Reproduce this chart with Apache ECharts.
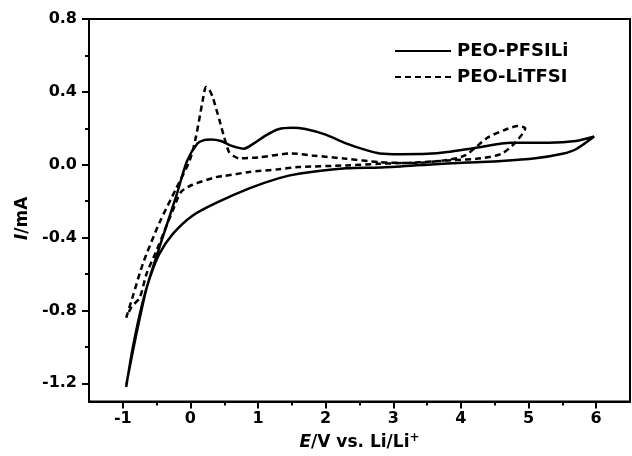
<!DOCTYPE html>
<html>
<head>
<meta charset="utf-8">
<script src="https://cdn.jsdelivr.net/npm/echarts@6/dist/echarts.min.js"></script>
<style>
html,body{margin:0;padding:0;background:#fff;}
#chart{width:632px;height:456px;}
</style>
</head>
<body>
<div id="chart"></div>
<script>
// PEO-PFSILi (solid) CV loop: potential E (V) and current I (mA)
var solidE = [-0.95,-0.8,-0.65,-0.5,-0.35,-0.2,-0.05,0.1,0.2,0.3,0.45,0.6,0.79,0.95,1.11,1.3,1.5,1.7,2.0,2.3,2.6,2.8,3.1,3.5,3.8,4.25,4.74,5.3,5.7,5.97,
              5.7,5.5,5.1,4.6,4.1,3.5,2.8,2.3,1.6,1.3,0.87,0.38,0.03,-0.26,-0.46,-0.6,-0.71,-0.85,-0.95];
var solidI = [-1.21,-0.93,-0.68,-0.5,-0.33,-0.16,0.02,0.115,0.135,0.138,0.13,0.105,0.088,0.12,0.16,0.195,0.203,0.196,0.165,0.117,0.08,0.062,0.058,0.06,0.07,0.095,0.12,0.12,0.13,0.155,
              0.085,0.06,0.035,0.02,0.012,0.0,-0.015,-0.02,-0.05,-0.075,-0.13,-0.21,-0.28,-0.38,-0.49,-0.62,-0.76,-1.0,-1.22];
// PEO-LiTFSI (dashed) CV loop
var dashE = [-0.95,-0.85,-0.7,-0.46,-0.21,-0.01,0.08,0.18,0.23,0.28,0.33,0.43,0.5,0.57,0.65,0.72,1.0,1.5,1.8,2.3,2.8,3.26,3.76,4.06,4.4,4.64,4.84,4.95,
             4.8,4.6,4.3,3.85,3.27,2.78,2.3,1.6,1.3,0.87,0.5,0.38,0.03,-0.14,-0.26,-0.38,-0.5,-0.65,-0.75,-0.87,-0.95];
var dashI = [-0.84,-0.72,-0.54,-0.32,-0.13,0.024,0.15,0.35,0.426,0.41,0.37,0.243,0.15,0.07,0.045,0.035,0.04,0.062,0.051,0.033,0.014,0.009,0.024,0.051,0.15,0.19,0.212,0.2,
             0.12,0.06,0.035,0.024,0.011,0.005,-0.004,-0.013,-0.025,-0.04,-0.062,-0.068,-0.11,-0.15,-0.25,-0.36,-0.47,-0.6,-0.73,-0.78,-0.84];

var xMajor = [-1,0,1,2,3,4,5,6];
var xMinor = [-0.5,0.5,1.5,2.5,3.5,4.5,5.5];
var yMajor = [-1.2,-0.8,-0.4,0.0,0.4,0.8];
var yMinor = [-1.0,-0.6,-0.2,0.2,0.6];
var seriesNames = ['PEO-PFSILi','PEO-LiTFSI'];

function pairs(xs, ys){ return xs.map(function(x,i){ return [x, ys[i]]; }); }

var FONT = 'DejaVu Sans';
var chart = echarts.init(document.getElementById('chart'), null, {renderer:'canvas'});
var option = {
  animation:false,
  backgroundColor:'#fff',
  grid:{left:89,right:2,top:19,bottom:54,show:true,borderColor:'#000',borderWidth:2,backgroundColor:'transparent'},
  legend:{
    left:389, top:37, orient:'vertical', itemWidth:56, itemHeight:14, itemGap:8,
    data:seriesNames,
    itemStyle:{opacity:0,color:'transparent',borderWidth:0},
    textStyle:{fontFamily:FONT,fontWeight:'bold',fontSize:18,color:'#000',padding:[0,0,0,1]}
  },
  xAxis:[{
    type:'value', min:-1.5, max:6.5, position:'bottom',
    name:'{i|E}{n|/V vs. Li/Li}{s|+}', nameLocation:'middle', nameGap:30,
    nameTextStyle:{rich:{
      i:{fontFamily:FONT,fontWeight:'bold',fontStyle:'italic',fontSize:17,color:'#000'},
      n:{fontFamily:FONT,fontWeight:'bold',fontSize:17,color:'#000'},
      s:{fontFamily:FONT,fontWeight:'bold',fontSize:12,color:'#000',verticalAlign:'top',padding:[0,0,10,0]}
    }},
    axisLine:{show:true,onZero:false,lineStyle:{color:'#000',width:2}},
    axisTick:{show:true,customValues:xMajor,length:7,lineStyle:{color:'#000',width:2}},
    axisLabel:{customValues:xMajor,margin:9,fontFamily:FONT,fontWeight:'bold',fontSize:16,color:'#000',formatter:function(v){return String(v);}},
    splitLine:{show:false}
  },{
    type:'value', min:-1.5, max:6.5, position:'bottom',
    axisLine:{show:false,onZero:false},
    axisTick:{show:true,customValues:xMinor,length:4,lineStyle:{color:'#000',width:2}},
    axisLabel:{show:false},
    splitLine:{show:false}
  }],
  yAxis:[{
    type:'value', min:-1.3, max:0.8, position:'left',
    name:'{i|I}{n|/mA}', nameLocation:'middle', nameGap:56, nameRotate:90,
    nameTextStyle:{padding:[0,16,0,0],rich:{
      i:{fontFamily:FONT,fontWeight:'bold',fontStyle:'italic',fontSize:17,color:'#000'},
      n:{fontFamily:FONT,fontWeight:'bold',fontSize:17,color:'#000'}
    }},
    axisLine:{show:true,onZero:false,lineStyle:{color:'#000',width:2}},
    axisTick:{show:true,customValues:yMajor,length:7,lineStyle:{color:'#000',width:2}},
    axisLabel:{customValues:yMajor,margin:12,fontFamily:FONT,fontWeight:'bold',fontSize:16,color:'#000',formatter:function(v){return v.toFixed(1);}},
    splitLine:{show:false}
  },{
    type:'value', min:-1.3, max:0.8, position:'left',
    axisLine:{show:false,onZero:false},
    axisTick:{show:true,customValues:yMinor,length:4,lineStyle:{color:'#000',width:2}},
    axisLabel:{show:false},
    splitLine:{show:false}
  }],
  series:[{
    name:seriesNames[0], type:'line', data:pairs(solidE,solidI), symbol:'none', smooth:0.25,
    xAxisIndex:0, yAxisIndex:0,
    lineStyle:{color:'#000',width:2.5,type:'solid'}, itemStyle:{color:'#000'}
  },{
    name:seriesNames[1], type:'line', data:pairs(dashE,dashI), symbol:'none', smooth:0.25,
    xAxisIndex:0, yAxisIndex:0,
    lineStyle:{color:'#000',width:2.5,type:[6,4]}, itemStyle:{color:'#000'}
  }]
};
chart.setOption(option);
</script>
</body>
</html>
